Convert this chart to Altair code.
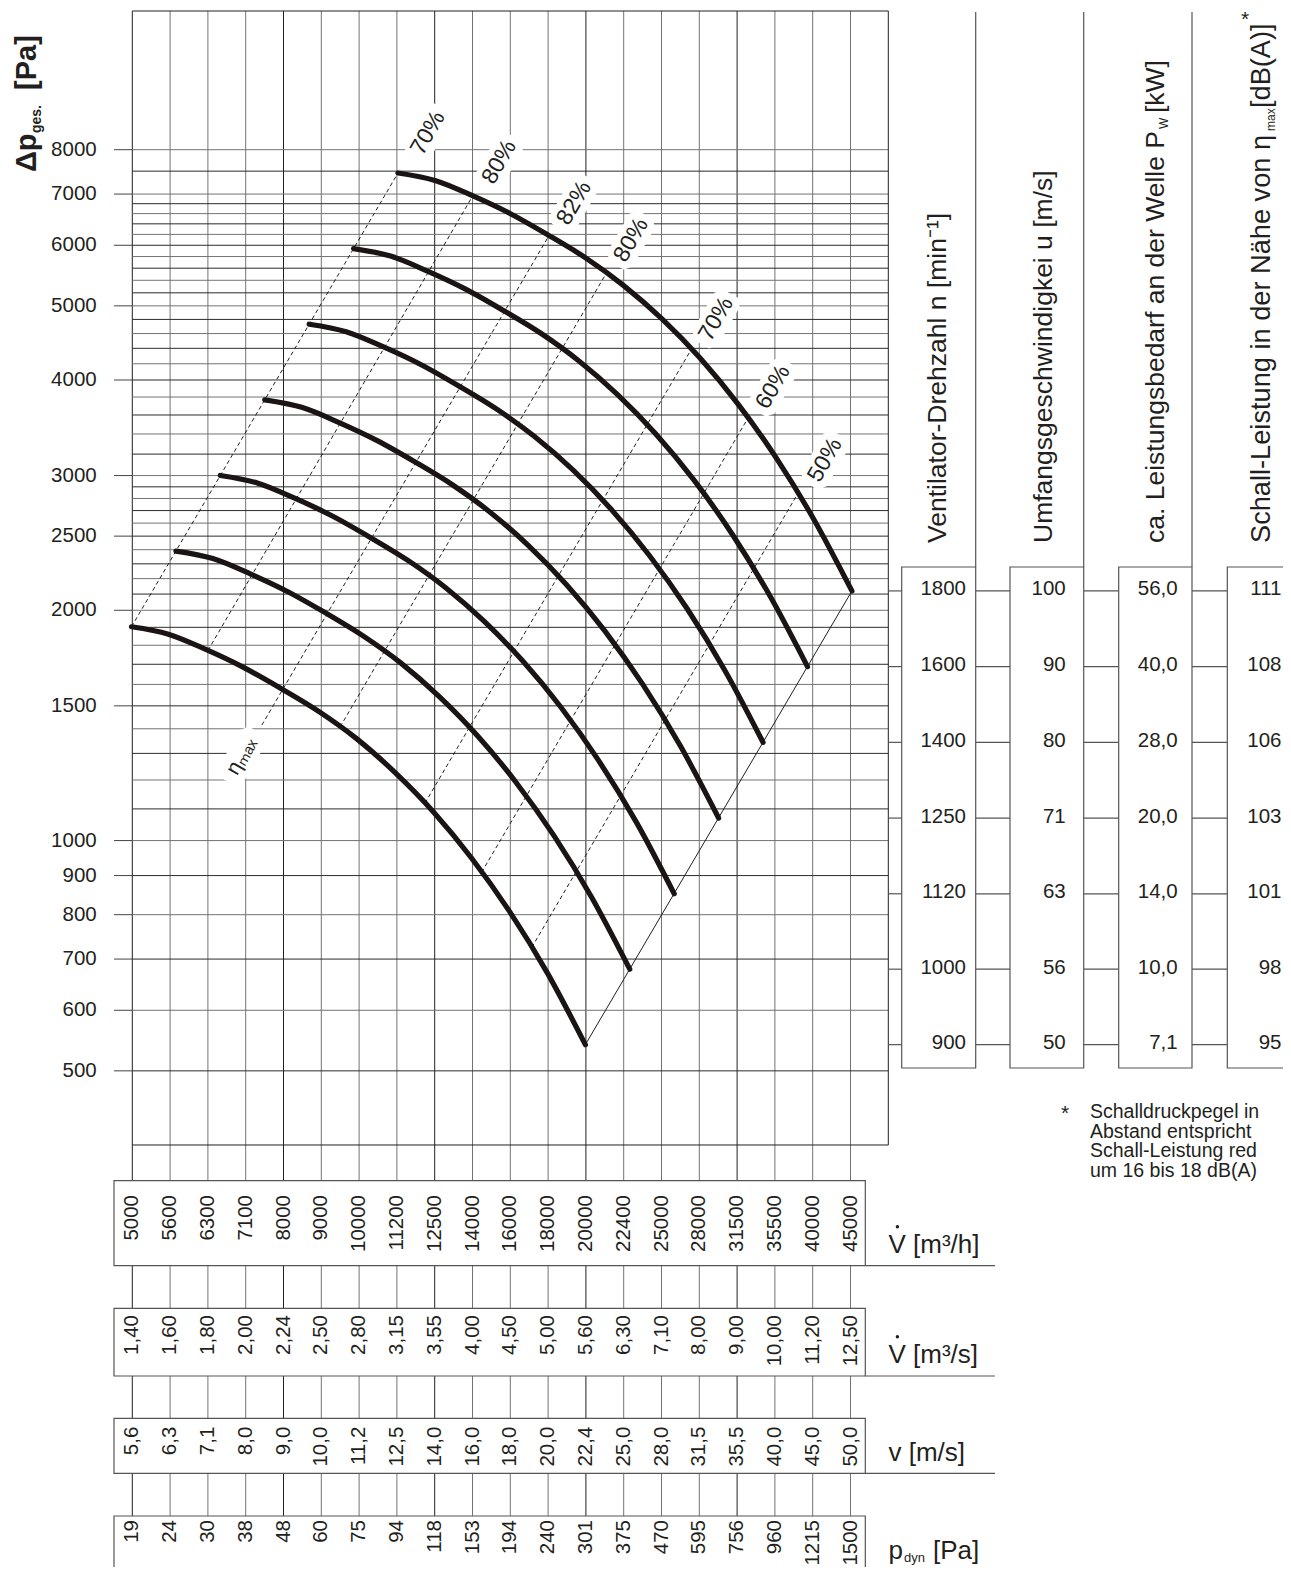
import altair as alt
import pandas as pd

# ---------------- values ----------------
flow_m3h = ["5000", "5600", "6300", "7100", "8000", "9000", "10000", "11200", "12500", "14000",
            "16000", "18000", "20000", "22400", "25000", "28000", "31500", "35500", "40000", "45000"]
flow_m3s = ["1,40", "1,60", "1,80", "2,00", "2,24", "2,50", "2,80", "3,15", "3,55", "4,00",
            "4,50", "5,00", "5,60", "6,30", "7,10", "8,00", "9,00", "10,00", "11,20", "12,50"]
velocity = ["5,6", "6,3", "7,1", "8,0", "9,0", "10,0", "11,2", "12,5", "14,0", "16,0",
            "18,0", "20,0", "22,4", "25,0", "28,0", "31,5", "35,5", "40,0", "45,0", "50,0"]
p_dyn = ["19", "24", "30", "38", "48", "60", "75", "94", "118", "153",
         "194", "240", "301", "375", "470", "595", "756", "960", "1215", "1500"]

p_labels = [500, 600, 700, 800, 900, 1000, 1500, 2000, 2500, 3000, 4000, 5000, 6000, 7000, 8000]
p_grid = [500, 600, 700, 800, 900] + list(range(1000, 3001, 100)) + list(range(3200, 7001, 200)) + [7500, 8000]

rpm = ["1800", "1600", "1400", "1250", "1120", "1000", "900"]
u_ms = ["100", "90", "80", "71", "63", "56", "50"]
pw_kw = ["56,0", "40,0", "28,0", "20,0", "14,0", "10,0", "7,1"]
lw_db = ["111", "108", "106", "103", "101", "98", "95"]

# characteristic curves (flow m3/h, total pressure Pa), one per speed
curve_speed = ["900", "1000", "1120", "1250", "1400", "1600", "1800"]
curve_q = [
    [4987, 5581, 6265, 7015, 7875, 8841, 9899, 11143, 12513, 14048, 15773, 17706, 19872],
    [5710, 6390, 7173, 8031, 9016, 10122, 11333, 12758, 14326, 16084, 18058, 20272, 22751],
    [6537, 7316, 8213, 9195, 10322, 11589, 12975, 14607, 16402, 18415, 20674, 23209, 26048],
    [7484, 8376, 9403, 10527, 11818, 13268, 14855, 16724, 18778, 21083, 23669, 26572, 29823],
    [8568, 9590, 10766, 12052, 13530, 15190, 17007, 19147, 21499, 24138, 27099, 30422, 34144],
    [9809, 10980, 12326, 13798, 15490, 17391, 19471, 21921, 24614, 27636, 31025, 34830, 39091],
    [11230, 12571, 14112, 15797, 17735, 19911, 22292, 25097, 28181, 31640, 35521, 39877, 44755],
]
curve_p = [
    [1903, 1861, 1776, 1684, 1579, 1473, 1359, 1226, 1090, 949, 808, 671, 541],
    [2390, 2337, 2230, 2115, 1983, 1849, 1706, 1540, 1369, 1192, 1015, 842, 679],
    [3001, 2934, 2800, 2656, 2490, 2322, 2142, 1934, 1719, 1497, 1274, 1057, 852],
    [3768, 3684, 3516, 3335, 3127, 2916, 2689, 2428, 2158, 1880, 1600, 1327, 1070],
    [4731, 4626, 4415, 4188, 3926, 3661, 3376, 3049, 2710, 2360, 2009, 1666, 1344],
    [5940, 5808, 5543, 5258, 4929, 4597, 4239, 3828, 3403, 2963, 2522, 2092, 1688],
    [7458, 7292, 6960, 6602, 6189, 5772, 5322, 4807, 4273, 3720, 3167, 2627, 2120],
]

# efficiency lines (lower end, upper end) and their labels
eff_q1 = [4987, 6296, 7419, 9415, 12190, 14490, 16880]
eff_p1 = [1903, 1772, 1416, 1408, 1119, 909, 725]
eff_q2 = [11230, 14100, 17790, 21190, 27450, 32610, 37970]
eff_p2 = [7458, 6962, 6178, 5520, 4389, 3567, 2844]
eff_text = ["70%", "80%", "82%", "80%", "70%", "60%", "50%"]
eff_lab_q = [12300, 15280, 19200, 22840, 29590, 35190, 41230]
eff_lab_p = [8412, 7710, 6815, 6096, 4806, 3916, 3143]
eta_lab_q, eta_lab_p = 6978, 1289

# footnote as far as it is visible in the reference (it runs off the right edge there)
footnote = ["Schalldruckpegel in", "Abstand entspricht", "Schall-Leistung red", "um 16 bis 18 dB(A)"]

# ---------------- scales / layout ----------------
W, H = 1275, 1559          # page area inside the 8px margin
OX, OY = 8, 8
Q0, X0, PX_DEC_X = 5000.0, 132.3, 756.0
P0, Y0, PX_DEC_Y = 8000.0, 149.7, 765.0


def q_at(px):
    return Q0 * 10 ** ((px - X0) / PX_DEC_X)


def p_at(py):
    return P0 * 10 ** (-(py - Y0) / PX_DEC_Y)


XM = alt.Scale(type="log", domain=[q_at(OX), q_at(OX + W)], nice=False, zero=False)
YM = alt.Scale(type="log", domain=[p_at(OY + H), p_at(OY)], nice=False, zero=False)
XL = alt.Scale(type="linear", domain=[OX, OX + W], nice=False, zero=False)
YL = alt.Scale(type="linear", domain=[OY, OY + H], nice=False, zero=False, reverse=True)

INK = "#231f20"
GRAY = "#737373"
FONT = "Liberation Sans"


def xm(f): return alt.X(f, type="quantitative", scale=XM, axis=None)
def ym(f): return alt.Y(f, type="quantitative", scale=YM, axis=None)
def xl(f): return alt.X(f, type="quantitative", scale=XL, axis=None)
def yl(f): return alt.Y(f, type="quantitative", scale=YL, axis=None)


def rules(df, x, y, x2=None, y2=None, color=INK, width=1.0, dash=None):
    kw = dict(color=color, strokeWidth=width)
    if dash:
        kw["strokeDash"] = dash
    enc = dict(x=x, y=y)
    if x2 is not None:
        enc["x2"] = alt.X2(x2)
    if y2 is not None:
        enc["y2"] = alt.Y2(y2)
    return alt.Chart(df).mark_rule(**kw).encode(**enc)


def texts(df, x, y, size, align="center", baseline="middle", angle=None, weight="normal", dy=0):
    kw = dict(font=FONT, fontSize=size, align=align, baseline=baseline, color=INK, fontWeight=weight)
    if angle is not None:
        kw["angle"] = angle
    if dy:
        kw["dy"] = dy
    return alt.Chart(df).mark_text(**kw).encode(x=x, y=y, text="t:N")


layers = []

# ---- grid ----
q_grid = [Q0 * 10 ** (i / 20) for i in range(len(flow_m3h))]   # R20 preferred-number grid
FRAME_TOP, GRID_BOT = 11.0, 1580.0
vg = pd.DataFrame({"q": q_grid, "y1": FRAME_TOP, "y2": GRID_BOT,
                   "dark": [i % 4 == 0 for i in range(len(q_grid))]})
layers.append(rules(vg[~vg.dark], xm("q"), yl("y1"), y2="y2", color=GRAY))
layers.append(rules(vg[vg.dark], xm("q"), yl("y1"), y2="y2", color=INK))

hg = pd.DataFrame({"p": p_grid, "q1": Q0, "q2": 50000.0})
hg["dark"] = [i % 2 == 0 for i in range(len(hg))]
layers.append(rules(hg[~hg.dark], xm("q1"), ym("p"), x2="q2", color=GRAY))
layers.append(rules(hg[hg.dark], xm("q1"), ym("p"), x2="q2", color="#2b2b2b"))

stub = pd.DataFrame({"p": p_labels, "x1": 114.0, "x2": X0})
layers.append(rules(stub, xl("x1"), ym("p"), x2="x2", color="#444444"))

# frame
layers.append(rules(pd.DataFrame({"q": [50000.0], "y1": [FRAME_TOP], "y2": [1145.0]}),
                    xm("q"), yl("y1"), y2="y2", color=INK))
layers.append(rules(pd.DataFrame({"q1": [Q0], "q2": [50000.0], "y": [FRAME_TOP]}),
                    xm("q1"), yl("y"), x2="q2", color=INK))
layers.append(rules(pd.DataFrame({"q1": [Q0], "q2": [50000.0], "p": [400.0]}),
                    xm("q1"), ym("p"), x2="q2", color=INK))

# ---- y axis labels & title ----
layers.append(texts(pd.DataFrame({"t": [str(v) for v in p_labels], "p": p_labels, "x": 96.7}),
                    xl("x"), ym("p"), 20.5, align="right"))
ytitle_big = pd.DataFrame({"t": ["Δp", "[Pa]"], "x": [36.0, 36.0], "y": [172.0, 90.0]})
layers.append(texts(ytitle_big, xl("x"), yl("y"), 29, align="left", baseline="alphabetic",
                    angle=270, weight="bold"))
layers.append(texts(pd.DataFrame({"t": ["ges."], "x": [41.0], "y": [133.0]}), xl("x"), yl("y"), 14,
                    align="left", baseline="alphabetic", angle=270, weight="bold"))

# ---- bottom tables ----
tables = [
    (flow_m3h, 1180.7, 1265.7, 1195.0),
    (flow_m3s, 1308.3, 1376.0, 1315.0),
    (velocity, 1418.3, 1473.3, 1426.7),
    (p_dyn, 1516.0, 1600.0, 1520.0),
]
boxes = pd.DataFrame({"x1": [114.0] * 4, "x2": [865.3] * 4,
                      "y1": [t[1] for t in tables], "y2": [t[2] for t in tables]})
layers.append(alt.Chart(boxes).mark_rect(fill="white", stroke="#555555", strokeWidth=1.2).encode(
    x=xl("x1"), x2=alt.X2("x2"), y=yl("y1"), y2=alt.Y2("y2")))
ul = pd.DataFrame({"x1": [865.3] * 3, "x2": [995.0] * 3, "y": [t[2] for t in tables[:3]]})
layers.append(rules(ul, xl("x1"), yl("y"), x2="x2", color="#555555", width=1.2))
for labels, top, bot, anchor in tables:
    df = pd.DataFrame({"t": labels, "q": q_grid, "y": anchor})
    layers.append(texts(df, xm("q"), yl("y"), 20.5, align="right", baseline="middle", angle=270))

units = pd.DataFrame({"t": ["V [m³/h]", "V [m³/s]", "v [m/s]", "p", "[Pa]"],
                      "x": [888.5, 888.5, 888.5, 888.5, 933.0],
                      "y": [1253.0, 1363.0, 1461.0, 1559.0, 1559.0]})
layers.append(texts(units, xl("x"), yl("y"), 26, align="left", baseline="alphabetic"))
layers.append(texts(pd.DataFrame({"t": ["dyn"], "x": [904.0], "y": [1562.0]}), xl("x"), yl("y"), 13,
                    align="left", baseline="alphabetic"))
dots = pd.DataFrame({"x": [897.4, 897.4], "y": [1226.7, 1336.7]})
layers.append(alt.Chart(dots).mark_point(filled=True, color=INK, size=12, opacity=1).encode(
    x=xl("x"), y=yl("y")))

# ---- right panel ----
col_left = [901.7, 1010.0, 1118.7, 1227.3]
col_right = [975.7, 1083.7, 1192.0, 1310.0]
val_right = [966.0, 1065.7, 1177.7, 1281.5]
row_p = [c[-1] for c in curve_p][::-1]        # curve end points, 1800 rpm first
sep = pd.DataFrame({"x": col_right[:3], "y1": 12.0, "y2": 567.0})
layers.append(rules(sep, xl("x"), yl("y1"), y2="y2", color="#555555", width=1.2))
rbox = pd.DataFrame({"x1": col_left, "x2": col_right, "y1": 567.0, "y2": 1068.0})
layers.append(alt.Chart(rbox).mark_rect(fill="white", stroke="#555555", strokeWidth=1.2).encode(
    x=xl("x1"), x2=alt.X2("x2"), y=yl("y1"), y2=alt.Y2("y2")))
seg_from = [888.3] + col_right[:3]
conn = pd.DataFrame([{"x1": a, "x2": b, "p": p} for p in row_p for a, b in zip(seg_from, col_left)])
layers.append(rules(conn, xl("x1"), ym("p"), x2="x2", color="#555555", width=1.2))
for vals, xr in zip([rpm, u_ms, pw_kw, lw_db], val_right):
    df = pd.DataFrame({"t": vals, "p": row_p, "x": xr})
    layers.append(texts(df, xl("x"), ym("p"), 20.5, align="right", dy=-1.5))

titles = pd.DataFrame({
    "t": ["Ventilator-Drehzahl n [min⁻¹]", "Umfangsgeschwindigkei u [m/s]",
          "ca. Leistungsbedarf an der Welle P", "[kW]"],
    "x": [946.0, 1051.5, 1164.0, 1164.0],
    "y": [543.0, 543.0, 543.0, 113.0]})
layers.append(texts(titles, xl("x"), yl("y"), 26.5, align="left", baseline="alphabetic", angle=270))
titles2 = pd.DataFrame({"t": ["Schall-Leistung in der Nähe von η", "[dB(A)]"],
                        "x": [1270.0, 1270.0], "y": [543.0, 108.0]})
layers.append(texts(titles2, xl("x"), yl("y"), 27.2, align="left", baseline="alphabetic", angle=270))
subs = pd.DataFrame({"t": ["W", "max"], "x": [1168.0, 1274.5], "y": [129.0, 131.0]})
layers.append(texts(subs, xl("x"), yl("y"), 12, align="left", baseline="alphabetic", angle=270))
layers.append(texts(pd.DataFrame({"t": ["*"], "x": [1245.0], "y": [20.0]}), xl("x"), yl("y"), 21))

# ---- efficiency lines ----
eff_rows = []
for i in range(len(eff_q1)):
    eff_rows.append({"id": i, "q": eff_q1[i], "p": eff_p1[i]})
    eff_rows.append({"id": i, "q": eff_q2[i], "p": eff_p2[i]})
layers.append(alt.Chart(pd.DataFrame(eff_rows)).mark_line(color=INK, strokeWidth=1, strokeDash=[4, 3]).encode(
    x=xm("q"), y=ym("p"), detail="id:N"))
end_line = pd.DataFrame({"q": [curve_q[0][-1], curve_q[-1][-1]], "p": [curve_p[0][-1], curve_p[-1][-1]]})
layers.append(alt.Chart(end_line).mark_line(color=INK, strokeWidth=1).encode(x=xm("q"), y=ym("p")))

# label knock-outs
KO = "M -1 -0.3 L -0.75 -0.5 L 0.75 -0.5 L 1 -0.3 L 1 0.3 L 0.75 0.5 L -0.75 0.5 L -1 0.3 Z"
ko = pd.DataFrame({"q": eff_lab_q + [eta_lab_q], "p": eff_lab_p + [eta_lab_p]})
layers.append(alt.Chart(ko).mark_point(shape=KO, filled=True, color="white", opacity=1, size=3400,
                                       angle=300, strokeWidth=0).encode(x=xm("q"), y=ym("p")))

# ---- characteristic curves ----
crow = []
for s, qs, ps in zip(curve_speed, curve_q, curve_p):
    for q, p in zip(qs, ps):
        crow.append({"n": s, "q": q, "p": p})
layers.append(alt.Chart(pd.DataFrame(crow)).mark_line(color="#1a1414", strokeWidth=5.2, interpolate="monotone",
                                                      strokeCap="round").encode(
    x=xm("q"), y=ym("p"), detail="n:N"))

# efficiency labels
layers.append(texts(pd.DataFrame({"t": eff_text, "q": eff_lab_q, "p": eff_lab_p}), xm("q"), ym("p"),
                    23, angle=300))
layers.append(texts(pd.DataFrame({"t": ["ηₘₐₓ"], "q": [eta_lab_q], "p": [eta_lab_p]}), xm("q"), ym("p"),
                    21, angle=300))

# ---- footnote ----
layers.append(texts(pd.DataFrame({"t": ["*"], "x": [1061.0], "y": [1120.0]}), xl("x"), yl("y"), 21,
                    align="left", baseline="alphabetic"))
layers.append(texts(pd.DataFrame({"t": footnote, "x": 1090.0, "y": [1118.0, 1137.5, 1157.0, 1176.5]}),
                    xl("x"), yl("y"), 19.5, align="left", baseline="alphabetic"))

chart = alt.layer(*layers).resolve_scale(x="independent", y="independent").properties(
    width=W, height=H, padding=0, autosize=alt.AutoSizeParams(type="none"), background="white"
).configure_view(stroke=None)

chart.save("out.html", embed_options={"renderer": "svg", "actions": False})
